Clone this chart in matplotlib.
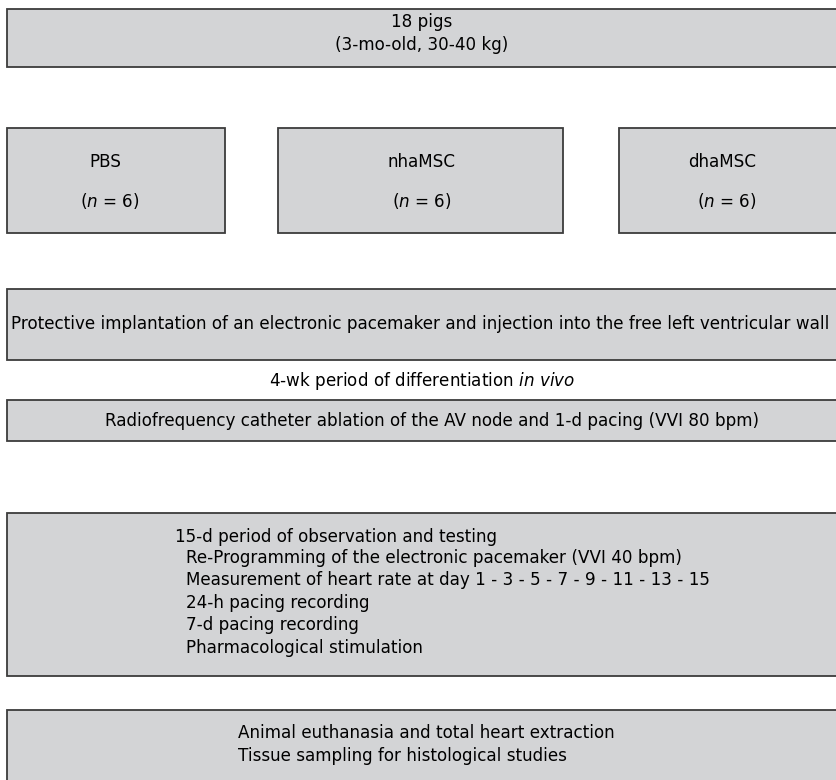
import matplotlib
matplotlib.use("Agg")
import matplotlib.pyplot as plt
from matplotlib.patches import Rectangle

plt.rcParams['font.family'] = ['DejaVu Sans']
plt.rcParams['mathtext.fontset'] = 'dejavusans'

# Box contents
top_lines = ["18 pigs", "(3-mo-old, 30-40 kg)"]
groups = ["PBS", "nhaMSC", "dhaMSC"]
group_n = [6, 6, 6]
implant_text = ("Protective implantation of an electronic pacemaker and injection "
                "into the free left ventricular wall")
period_text = r"4-wk period of differentiation $\mathit{in\ vivo}$"
ablation_text = "Radiofrequency catheter ablation of the AV node and 1-d pacing (VVI 80 bpm)"
obs_title = "15-d period of observation and testing"
obs_items = ["Re-Programming of the electronic pacemaker (VVI 40 bpm)",
             "Measurement of heart rate at day 1 - 3 - 5 - 7 - 9 - 11 - 13 - 15",
             "24-h pacing recording",
             "7-d pacing recording",
             "Pharmacological stimulation"]
end_lines = ["Animal euthanasia and total heart extraction",
             "Tissue sampling for histological studies"]

W, H = 837, 780
fig = plt.figure(figsize=(W / 100, H / 100), dpi=100, facecolor='white')
ax = fig.add_axes([0, 0, 1, 1])
ax.set_xlim(0, W)
ax.set_ylim(H, 0)
ax.axis('off')

fill = '#d3d4d6'
edge = '#3c3c3c'
fs = 12.1


def box(x0, y0, x1, y1):
    ax.add_patch(Rectangle((x0, y0), x1 - x0, y1 - y0, facecolor=fill,
                           edgecolor=edge, linewidth=1.3))


# top box
box(7, 9, 850, 67)
ax.text(422, 22, top_lines[0], ha='center', va='center', fontsize=fs)
ax.text(422, 45, top_lines[1], ha='center', va='center', fontsize=fs)

# group boxes
gx = [(7, 225), (278, 563), (619, 850)]
name_x = [105, 422, 722]
n_x = [110, 422, 727]
for (x0, x1), g, n, nx, tx in zip(gx, groups, group_n, n_x, name_x):
    box(x0, 128, x1, 233)
    ax.text(tx, 162, g, ha='center', va='center', fontsize=fs)
    ax.text(nx, 201, f"($n$ = {n})", ha='center', va='center', fontsize=fs)

# implantation
box(7, 289, 850, 360)
ax.text(420, 324, implant_text, ha='center', va='center', fontsize=fs)

ax.text(422, 381, period_text, ha='center', va='center', fontsize=fs)

# ablation
box(7, 400, 850, 441)
ax.text(432, 421, ablation_text, ha='center', va='center', fontsize=fs)

# observation
box(7, 513, 850, 676)
ax.text(175, 537, obs_title, ha='left', va='center', fontsize=fs)
for i, item in enumerate(obs_items):
    ax.text(186, 558 + i * 22.4, item, ha='left', va='center', fontsize=fs)

# end
box(7, 710, 850, 800)
for i, line in enumerate(end_lines):
    ax.text(238, 733 + i * 23, line, ha='left', va='center', fontsize=fs)

fig.savefig('out.png', dpi=100, facecolor='white')
